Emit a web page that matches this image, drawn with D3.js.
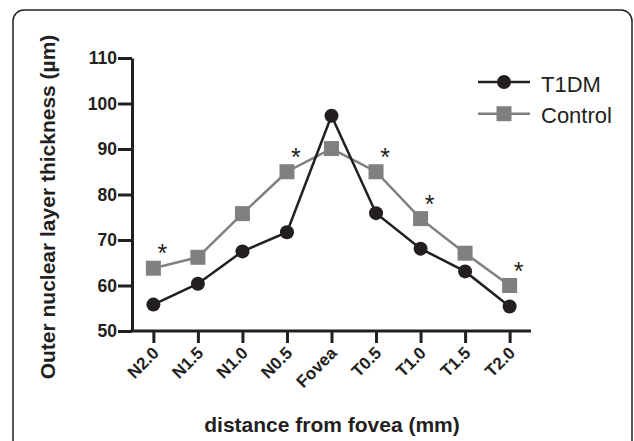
<!DOCTYPE html>
<html>
<head>
<meta charset="utf-8">
<script src="https://cdn.jsdelivr.net/npm/d3@7"></script>
<style>
  body { margin: 0; background: #fff; }
  text { font-family: "Liberation Sans", Arial, sans-serif; }
</style>
</head>
<body>
<script>
// data
var categories = ["N2.0", "N1.5", "N1.0", "N0.5", "Fovea", "T0.5", "T1.0", "T1.5", "T2.0"];
var t1dm    = [55.8, 60.4, 67.5, 71.7, 97.3, 75.9, 68.1, 63.1, 55.4];
var control = [63.8, 66.2, 75.8, 85.0, 90.1, 85.0, 74.7, 67.1, 60.0];
var starred = ["N2.0", "N0.5", "T0.5", "T1.0", "T2.0"];
var yTicks  = [50, 60, 70, 80, 90, 100, 110];

var w = 634, h = 441;
var black = "#231f20", grey = "#808083";

var svg = d3.select("body").append("svg")
    .attr("width", w)
    .attr("height", h);

// rounded frame, bottom runs off the picture
svg.append("rect")
   .attr("x", 13).attr("y", 10)
   .attr("width", 619).attr("height", 460)
   .attr("rx", 11)
   .attr("fill", "none")
   .attr("stroke", black)
   .attr("stroke-width", 1.5);

var x = d3.scalePoint().domain(categories).range([132, 531]).padding(0.48);
var y = d3.scaleLinear().domain([50, 110]).range([331, 58]);

// y axis
var yAxis = svg.append("g")
   .attr("transform", "translate(132,0)")
   .call(d3.axisLeft(y).tickValues(yTicks).tickSize(14).tickPadding(1).tickSizeOuter(0));
yAxis.select(".domain").attr("stroke", black).attr("stroke-width", 3);
yAxis.selectAll(".tick line").attr("stroke", black).attr("stroke-width", 3);
yAxis.selectAll(".tick text")
   .attr("fill", black)
   .style("font-size", "17.5px").style("font-weight", "bold");

// x axis
var xAxis = svg.append("g")
   .attr("transform", "translate(0,331)")
   .call(d3.axisBottom(x).tickSize(12).tickSizeOuter(0));
xAxis.select(".domain").attr("d", "M130.5,0H531").attr("stroke", black).attr("stroke-width", 3);
xAxis.selectAll(".tick line").attr("stroke", black).attr("stroke-width", 3);
xAxis.selectAll(".tick text")
   .attr("fill", black)
   .style("font-size", "17px").style("font-weight", "bold")
   .attr("text-anchor", "end")
   .attr("dy", null)
   .attr("transform", "translate(6,23) rotate(-45)")
   .attr("y", 0).attr("x", 0);

// axis titles
svg.append("text")
   .attr("transform", "translate(55,207) rotate(-90)")
   .attr("text-anchor", "middle")
   .style("font-size", "21px").style("font-weight", "bold")
   .attr("fill", black)
   .text("Outer nuclear layer thickness (µm)");

svg.append("text")
   .attr("x", 332).attr("y", 432)
   .attr("text-anchor", "middle")
   .style("font-size", "21px").style("font-weight", "bold")
   .attr("fill", black)
   .text("distance from fovea (mm)");

var line = d3.line()
   .x(function(d, i){ return x(categories[i]); })
   .y(function(d){ return y(d); });

// control series
svg.append("path").datum(control)
   .attr("d", line).attr("fill", "none")
   .attr("stroke", grey).attr("stroke-width", 2.5);
svg.selectAll("rect.ctl").data(control).enter().append("rect")
   .attr("class", "ctl")
   .attr("x", function(d, i){ return x(categories[i]) - 7.5; })
   .attr("y", function(d){ return y(d) - 7.5; })
   .attr("width", 15).attr("height", 15)
   .attr("fill", grey);

// T1DM series
svg.append("path").datum(t1dm)
   .attr("d", line).attr("fill", "none")
   .attr("stroke", black).attr("stroke-width", 2.5);
svg.selectAll("circle.t1").data(t1dm).enter().append("circle")
   .attr("class", "t1")
   .attr("cx", function(d, i){ return x(categories[i]); })
   .attr("cy", function(d){ return y(d); })
   .attr("r", 7)
   .attr("fill", black);

// significance marks
svg.selectAll("text.star").data(starred).enter().append("text")
   .attr("class", "star")
   .attr("x", function(d){ return x(d) + 9; })
   .attr("y", function(d){ return y(control[categories.indexOf(d)]) - 6; })
   .attr("text-anchor", "middle")
   .style("font-size", "25px")
   .attr("fill", black)
   .text("*");

// legend
var legend = [{name: "T1DM", color: black, shape: "circle"},
              {name: "Control", color: grey, shape: "square"}];
var lg = svg.selectAll("g.legend").data(legend).enter().append("g")
   .attr("class", "legend")
   .attr("transform", function(d, i){ return "translate(478," + (82 + i * 31.7) + ")"; });
lg.append("line")
   .attr("x1", 0).attr("x2", 52)
   .attr("stroke", function(d){ return d.color; })
   .attr("stroke-width", 2.5);
lg.filter(function(d){ return d.shape == "circle"; }).append("circle")
   .attr("cx", 26).attr("r", 7).attr("fill", black);
lg.filter(function(d){ return d.shape == "square"; }).append("rect")
   .attr("x", 18.5).attr("y", -7.5).attr("width", 15).attr("height", 15).attr("fill", grey);
lg.append("text")
   .attr("x", 63).attr("y", 9.5)
   .style("font-size", "22px")
   .attr("fill", black)
   .text(function(d){ return d.name; });
</script>
</body>
</html>
